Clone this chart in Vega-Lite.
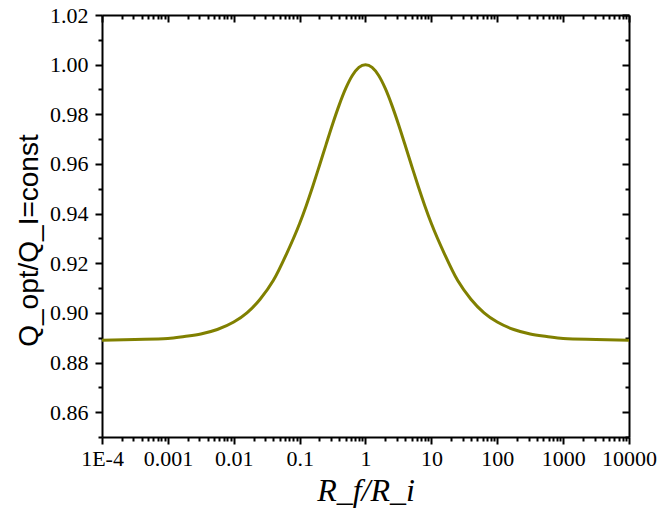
{
  "$schema": "https://vega.github.io/schema/vega-lite/v6.json",
  "autosize": {"type": "none"},
  "width": 527,
  "height": 422,
  "padding": {"left": 102, "top": 15, "right": 35, "bottom": 91},
  "background": "white",
  "data": {
    "values": [
      {"r": 0.0001, "q": 0.8890},
      {"r": 0.000316228, "q": 0.8893},
      {"r": 0.001, "q": 0.8897},
      {"r": 0.00177828, "q": 0.8905},
      {"r": 0.00316228, "q": 0.8915},
      {"r": 0.00562341, "q": 0.8933},
      {"r": 0.01, "q": 0.8963},
      {"r": 0.0158489, "q": 0.9000},
      {"r": 0.0251189, "q": 0.9055},
      {"r": 0.0398107, "q": 0.9130},
      {"r": 0.0630957, "q": 0.9237},
      {"r": 0.1, "q": 0.9360},
      {"r": 0.125893, "q": 0.9432},
      {"r": 0.158489, "q": 0.9510},
      {"r": 0.199526, "q": 0.9593},
      {"r": 0.251189, "q": 0.9677},
      {"r": 0.316228, "q": 0.9760},
      {"r": 0.398107, "q": 0.9837},
      {"r": 0.501187, "q": 0.9904},
      {"r": 0.630957, "q": 0.9956},
      {"r": 0.794328, "q": 0.9989},
      {"r": 1, "q": 1.0000},
      {"r": 1.25893, "q": 0.9989},
      {"r": 1.58489, "q": 0.9956},
      {"r": 1.99526, "q": 0.9904},
      {"r": 2.51189, "q": 0.9837},
      {"r": 3.16228, "q": 0.9760},
      {"r": 3.98107, "q": 0.9677},
      {"r": 5.01187, "q": 0.9593},
      {"r": 6.30957, "q": 0.9510},
      {"r": 7.94328, "q": 0.9432},
      {"r": 10, "q": 0.9360},
      {"r": 15.8489, "q": 0.9237},
      {"r": 25.1189, "q": 0.9130},
      {"r": 39.8107, "q": 0.9055},
      {"r": 63.0957, "q": 0.9000},
      {"r": 100, "q": 0.8963},
      {"r": 177.828, "q": 0.8933},
      {"r": 316.228, "q": 0.8915},
      {"r": 562.341, "q": 0.8905},
      {"r": 1000, "q": 0.8897},
      {"r": 3162.28, "q": 0.8893},
      {"r": 10000, "q": 0.8890}
    ]
  },
  "layer": [
    {
      "mark": {"type": "line", "color": "#808000", "strokeWidth": 3, "interpolate": "monotone", "clip": true},
      "encoding": {
        "x": {
          "field": "r", "type": "quantitative",
          "scale": {"type": "log", "domain": [0.0001, 10000], "nice": false},
          "axis": {
            "orient": "bottom",
            "title": "R_f/R_i",
            "titleFont": "Liberation Serif",
            "titleFontStyle": "italic",
            "titleFontWeight": "normal",
            "titleFontSize": 32,
            "titlePadding": 6,
            "labelPadding": 4,
            "values": [0.0001,0.0002,0.0003,0.0004,0.0005,0.0006,0.0007,0.0008,0.0009,0.001,0.002,0.003,0.004,0.005,0.006,0.007,0.008,0.009,0.01,0.02,0.03,0.04,0.05,0.06,0.07,0.08,0.09,0.1,0.2,0.3,0.4,0.5,0.6,0.7,0.8,0.9,1,2,3,4,5,6,7,8,9,10,20,30,40,50,60,70,80,90,100,200,300,400,500,600,700,800,900,1000,2000,3000,4000,5000,6000,7000,8000,9000,10000],
            "labelExpr": "abs(log(datum.value)/LN10 - round(log(datum.value)/LN10)) < 1e-6 ? (datum.value < 0.0005 ? '1E-4' : format(datum.value, '~g')) : ''",
            "tickSize": {"condition": {"test": "abs(log(datum.value)/LN10 - round(log(datum.value)/LN10)) < 1e-6", "value": 7}, "value": 4}
          }
        },
        "y": {
          "field": "q", "type": "quantitative",
          "scale": {"domain": [0.85, 1.02], "zero": false, "nice": false},
          "axis": {
            "orient": "left",
            "title": "Q_opt/Q_I=const",
            "titleFont": "Liberation Sans",
            "titleFontWeight": "normal",
            "titleFontSize": 28,
            "titlePadding": 6,
            "titleY": 225,
            "labelPadding": 7,
            "values": [0.85,0.86,0.87,0.88,0.89,0.9,0.91,0.92,0.93,0.94,0.95,0.96,0.97,0.98,0.99,1.0,1.01,1.02],
            "labelExpr": "round(datum.value*100) % 2 == 0 ? format(datum.value, '.2f') : ''",
            "tickSize": {"condition": {"test": "round(datum.value*100) % 2 == 0", "value": 7}, "value": 4}
          }
        }
      }
    },
    {
      "mark": {"type": "line", "strokeOpacity": 0},
      "encoding": {
        "x": {
          "field": "r", "type": "quantitative",
          "scale": {"type": "log", "domain": [0.0001, 10000], "nice": false},
          "axis": {
            "orient": "top",
            "title": null,
            "labels": false,
            "values": [0.0001,0.0002,0.0003,0.0004,0.0005,0.0006,0.0007,0.0008,0.0009,0.001,0.002,0.003,0.004,0.005,0.006,0.007,0.008,0.009,0.01,0.02,0.03,0.04,0.05,0.06,0.07,0.08,0.09,0.1,0.2,0.3,0.4,0.5,0.6,0.7,0.8,0.9,1,2,3,4,5,6,7,8,9,10,20,30,40,50,60,70,80,90,100,200,300,400,500,600,700,800,900,1000,2000,3000,4000,5000,6000,7000,8000,9000,10000],
            "tickSize": {"condition": {"test": "abs(log(datum.value)/LN10 - round(log(datum.value)/LN10)) < 1e-6", "value": -7}, "value": -4}
          }
        },
        "y": {
          "field": "q", "type": "quantitative",
          "scale": {"domain": [0.85, 1.02], "zero": false, "nice": false},
          "axis": {
            "orient": "right",
            "title": null,
            "labels": false,
            "values": [0.85,0.86,0.87,0.88,0.89,0.9,0.91,0.92,0.93,0.94,0.95,0.96,0.97,0.98,0.99,1.0,1.01,1.02],
            "tickSize": {"condition": {"test": "round(datum.value*100) % 2 == 0", "value": -7}, "value": -4}
          }
        }
      }
    }
  ],
  "resolve": {"axis": {"x": "independent", "y": "independent"}},
  "config": {
    "view": {"stroke": null},
    "axis": {
      "grid": false,
      "domainColor": "#000000",
      "domainWidth": 2,
      "tickColor": "#000000",
      "tickWidth": 2,
      "labelFont": "Liberation Serif",
      "labelFontSize": 22,
      "labelColor": "#000000",
      "titleColor": "#000000",
      "labelOverlap": false,
      "labelFlush": false,
      "labelBound": false
    }
  }
}
